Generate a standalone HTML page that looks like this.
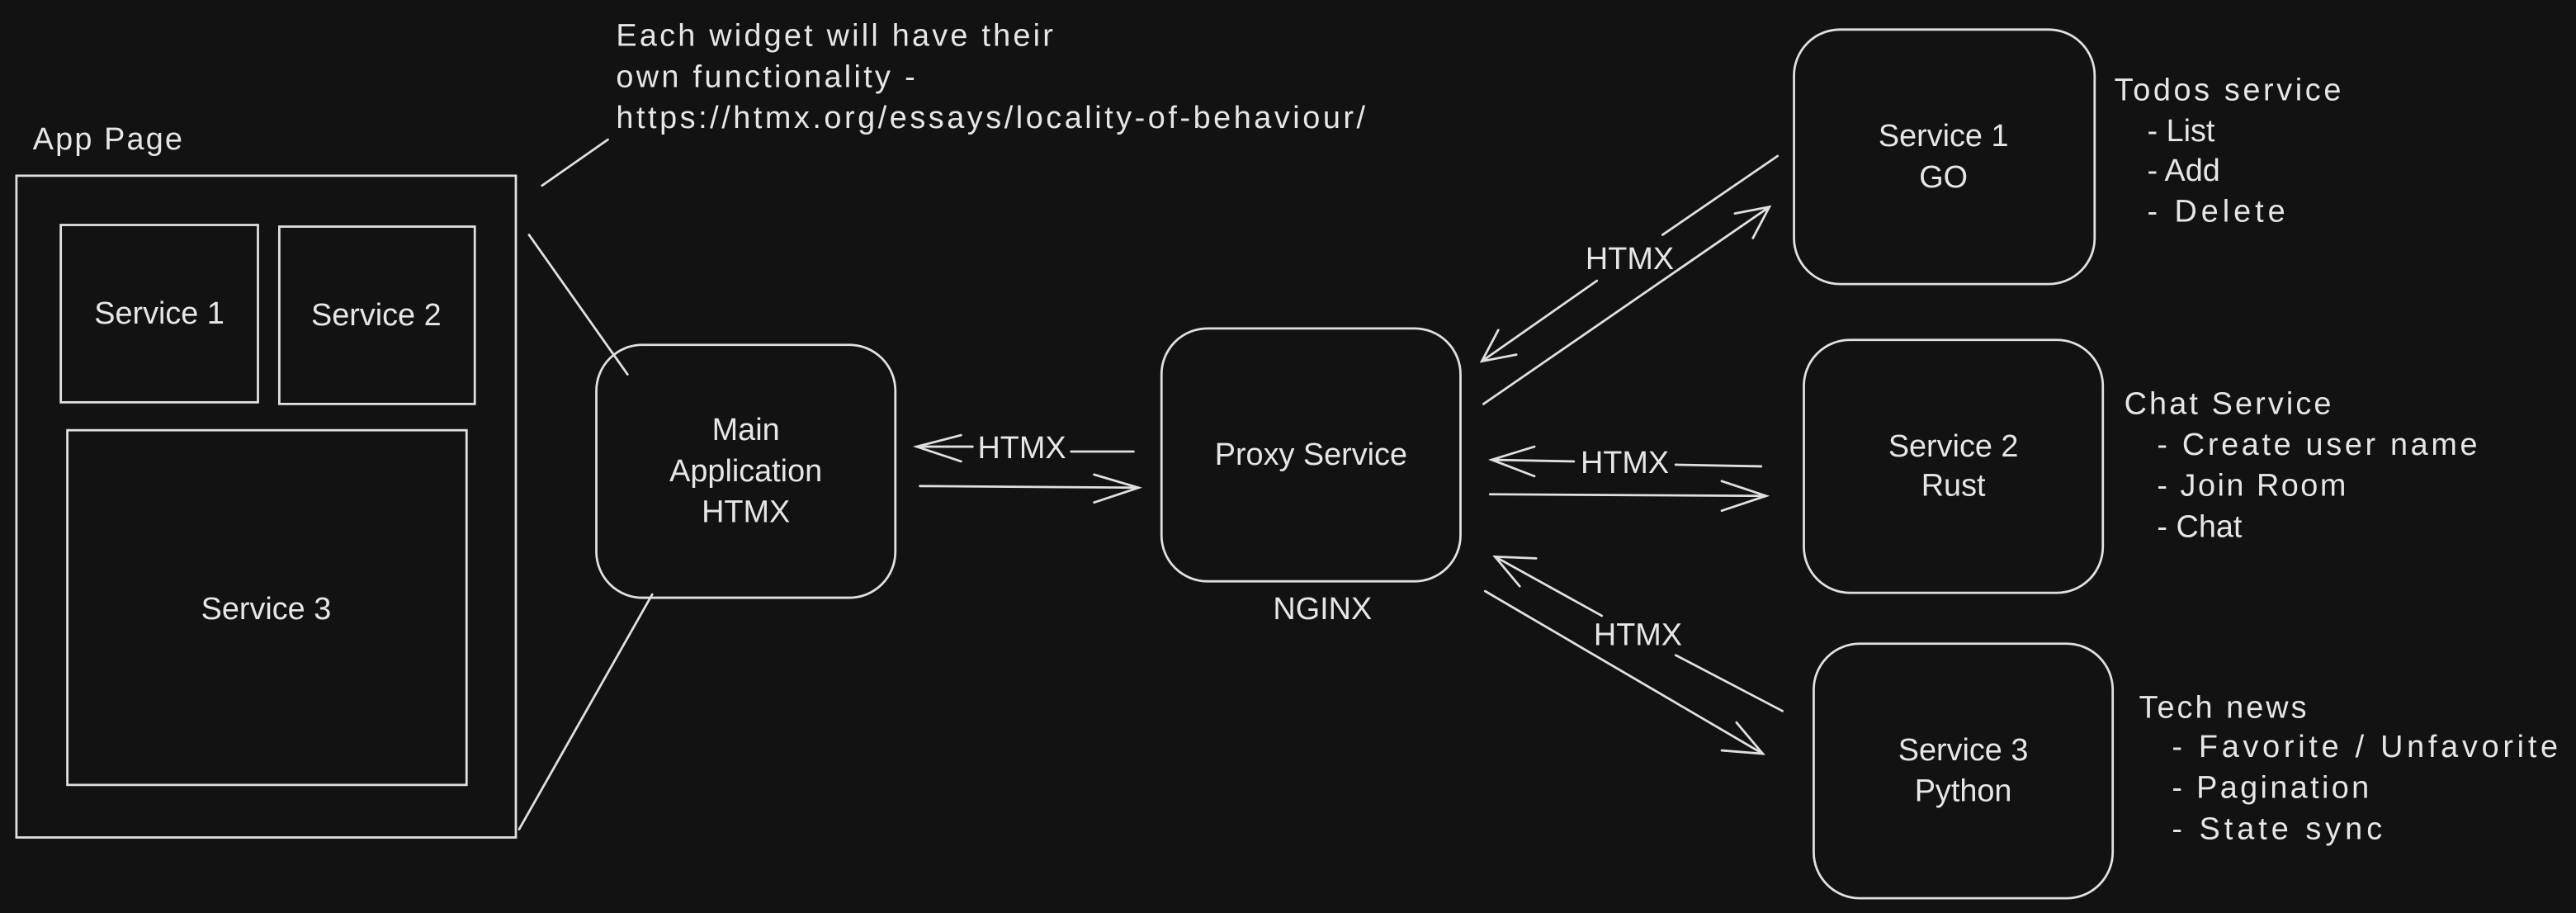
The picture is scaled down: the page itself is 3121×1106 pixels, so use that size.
<!DOCTYPE html>
<html><head><meta charset="utf-8"><style>
html,body{margin:0;padding:0;background:#121212;}
svg{display:block;}
text{font-family:"Liberation Sans",sans-serif;fill:#e6e6e6;font-size:19px;}
</style></head><body>
<svg width="3121" height="1106" viewBox="0 0 1568 556" preserveAspectRatio="none" xmlns="http://www.w3.org/2000/svg">
<rect x="0" y="0" width="1568" height="556" fill="#121212"/>
<g fill="none" stroke="#e0e0e0" stroke-width="1.4" stroke-linecap="round">
<rect x="10" y="107" width="304" height="403"/>
<rect x="37" y="137" width="120" height="108"/>
<rect x="170" y="138" width="119" height="108"/>
<rect x="41" y="262" width="243" height="216"/>
<rect x="363" y="210" width="182" height="154" rx="28"/>
<rect x="707" y="200" width="182" height="154" rx="28"/>
<rect x="1092" y="18" width="183" height="155" rx="28"/>
<rect x="1098" y="207" width="182" height="154" rx="28"/>
<rect x="1104" y="392" width="182" height="155" rx="28"/>
<line x1="330" y1="113" x2="370" y2="85"/>
<line x1="322" y1="143" x2="382" y2="228"/>
<line x1="316" y1="505" x2="397" y2="362"/>
<line x1="652" y1="275" x2="690" y2="275"/>
<line x1="558" y1="272" x2="592" y2="272"/>
<polyline points="585,265 558,272 585,281"/>
<line x1="560" y1="296" x2="693" y2="297"/>
<polyline points="666,289 693,297 666,306"/>
<line x1="903" y1="246" x2="1077" y2="126"/>
<polyline points="1056,130 1077,126 1067,145"/>
<line x1="1082" y1="95" x2="1012" y2="143"/>
<line x1="972" y1="171" x2="902" y2="220"/>
<polyline points="912,201 902,220 923,216"/>
<line x1="1072" y1="284" x2="1020" y2="283"/>
<line x1="958" y1="281" x2="908" y2="280"/>
<polyline points="934,272 908,280 934,290"/>
<line x1="907" y1="301" x2="1075" y2="302"/>
<polyline points="1048,293 1075,302 1048,311"/>
<line x1="1085" y1="433" x2="1020" y2="399"/>
<line x1="975" y1="375" x2="910" y2="339"/>
<polyline points="935,340 910,339 925,357"/>
<line x1="904" y1="360" x2="1073" y2="459"/>
<polyline points="1057,440 1073,459 1048,457"/>
</g>
<text x="20" y="91" textLength="91">App Page</text>
<text x="375" y="28" textLength="266">Each widget will have their</text>
<text x="375" y="53" textLength="182">own functionality -</text>
<text x="375" y="78" textLength="456">https://htmx.org/essays/locality-of-behaviour/</text>
<g text-anchor="middle">
<text x="97" y="197">Service 1</text>
<text x="229" y="198">Service 2</text>
<text x="162" y="377">Service 3</text>
<text x="454" y="268">Main</text>
<text x="454" y="293">Application</text>
<text x="454" y="318">HTMX</text>
<text x="798" y="283">Proxy Service</text>
<text x="805" y="377">NGINX</text>
<text x="1183" y="89">Service 1</text>
<text x="1183" y="114">GO</text>
<text x="1189" y="278">Service 2</text>
<text x="1189" y="302">Rust</text>
<text x="1195" y="463">Service 3</text>
<text x="1195" y="488">Python</text>
<text x="622" y="279">HTMX</text>
<text x="992" y="164">HTMX</text>
<text x="989" y="288">HTMX</text>
<text x="997" y="393">HTMX</text>
</g>
<text x="1287" y="61" textLength="138">Todos service</text>
<text x="1307" y="86">- List</text>
<text x="1307" y="110">- Add</text>
<text x="1307" y="135" textLength="84">- Delete</text>
<text x="1293" y="252" textLength="126">Chat Service</text>
<text x="1313" y="277" textLength="195">- Create user name</text>
<text x="1313" y="302" textLength="115">- Join Room</text>
<text x="1313" y="327">- Chat</text>
<text x="1302" y="437" textLength="102">Tech news</text>
<text x="1322" y="461" textLength="235">- Favorite / Unfavorite</text>
<text x="1322" y="486" textLength="120">- Pagination</text>
<text x="1322" y="511" textLength="128">- State sync</text>
</svg>
</body></html>
